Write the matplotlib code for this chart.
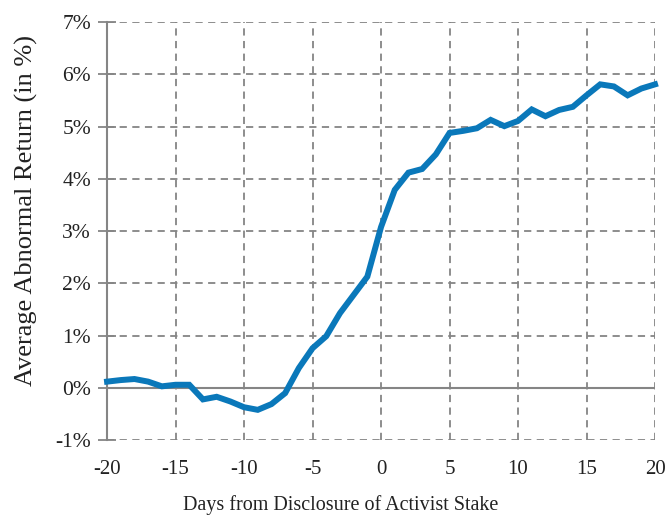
import matplotlib
matplotlib.use('Agg')
import matplotlib.pyplot as plt

days = list(range(-20, 21))
abn_return = [0.12, 0.15, 0.17, 0.12, 0.03, 0.06, 0.06, -0.22, -0.17, -0.26,
              -0.37, -0.42, -0.31, -0.10, 0.38, 0.76, 0.99, 1.43, 1.78, 2.13,
              3.08, 3.79, 4.12, 4.19, 4.47, 4.88, 4.92, 4.97, 5.13, 5.01,
              5.11, 5.33, 5.20, 5.32, 5.38, 5.60, 5.81, 5.77, 5.60, 5.73, 5.81]
x_ticks = [-20, -15, -10, -5, 0, 5, 10, 15, 20]
y_ticks = [-1, 0, 1, 2, 3, 4, 5, 6, 7]
y_labels = ['-1%', '0%', '1%', '2%', '3%', '4%', '5%', '6%', '7%']

plt.rcParams['font.family'] = ['Liberation Serif', 'DejaVu Serif']
plt.rcParams['axes.unicode_minus'] = False
text_col = '#222222'
grid_col = '#858585'

fig = plt.figure(figsize=(6.65, 5.16), dpi=100)
ax = fig.add_axes([0.161, 0.147, 0.824, 0.81])

ax.set_xlim(-20, 20)
ax.set_ylim(-1, 7)
ax.set_xticks(x_ticks)
ax.set_yticks(y_ticks)
ax.set_yticklabels(y_labels)

ax.grid(True, color=grid_col, linestyle=(0, (4, 3)), linewidth=1.3)
ax.axhline(0, color=grid_col, linewidth=1.5, zorder=2)

for side in ['top', 'right', 'bottom']:
    ax.spines[side].set_visible(False)
ax.spines['left'].set_color(grid_col)
ax.spines['left'].set_linewidth(1.5)

ax.tick_params(axis='y', direction='inout', length=13, width=1.3,
               color=grid_col, labelsize=15.5, labelcolor=text_col, pad=5)
ax.tick_params(axis='x', length=0, labelsize=15, labelcolor=text_col, pad=14)

ax.plot(days, abn_return, color='#0a78ba', linewidth=4.3,
        solid_joinstyle='miter', zorder=3, clip_on=False)

ax.set_xlabel('Days from Disclosure of Activist Stake', fontsize=14.5,
              color=text_col, va='center')
ax.xaxis.set_label_coords(0.427, -0.155)
ax.set_ylabel('Average Abnormal Return (in %)', fontsize=19,
              color=text_col, va='center')
ax.yaxis.set_label_coords(-0.148, 0.55)

fig.savefig('out.png', dpi=100)
